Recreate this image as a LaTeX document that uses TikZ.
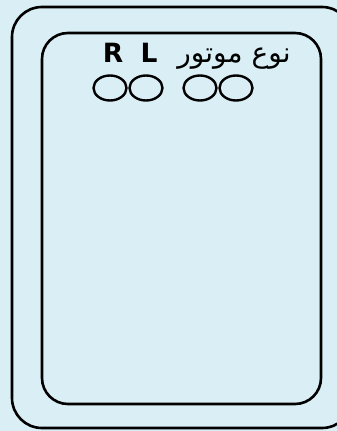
\documentclass[tikz,border=0pt]{standalone}
\usepackage{fontspec}
\setmainfont{DejaVu Sans}
\newfontfamily\arabicfont[Script=Arabic]{DejaVu Sans}
\TeXXeTstate=1
\usepackage{xcolor}
\usepackage{tikz}
\usetikzlibrary{shapes.geometric}
\definecolor{panelbg}{HTML}{D9EFF5}

\begin{document}
\begin{tikzpicture}[x=1pt, y=-1pt,
		frame/.style={draw=black, line width=2.6pt, rounded corners=30pt},
		lamp/.style={draw=black, line width=2.4pt, ellipse, minimum width=33pt, minimum height=25pt, inner sep=0pt}]
		\fill[panelbg] (0, 0) rectangle (337, 431);
		\useasboundingbox (0, 0) rectangle (337, 431);

		% Rahmen
		\draw[frame] (12, 7) rectangle (352, 428);
		\draw[frame, rounded corners=26pt] (42, 33) rectangle (321, 404);

		% Beschriftung
		\node[font=\bfseries\fontsize{26.5}{30}\selectfont, anchor=base] (labR) at (113, 62) {R};
		\node[font=\bfseries\fontsize{26.5}{30}\selectfont, anchor=base] (labL) at (149, 62) {L};
		\node[font=\arabicfont\fontsize{28}{32}\selectfont, anchor=base] (labtype) at (234, 62) {\beginR نوع موتور\endR};

		% Lampen
		\node[lamp] (lampA) at (110, 88) {};
		\node[lamp] (lampB) at (146, 88) {};
		\node[lamp] (lampC) at (200, 88) {};
		\node[lamp] (lampD) at (236, 88) {};
	\end{tikzpicture}
\end{document}
